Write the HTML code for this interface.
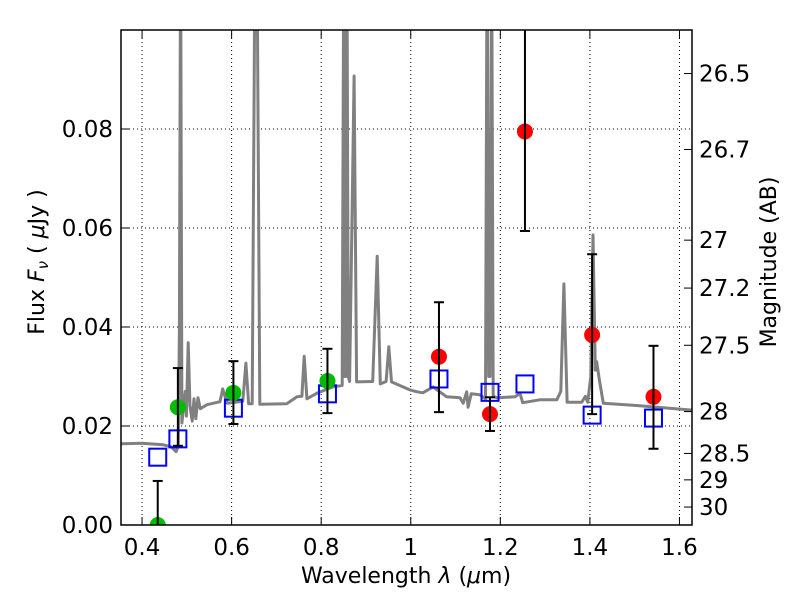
<!DOCTYPE html>
<html><head><meta charset="utf-8"><style>
body{margin:0;background:#fff}
svg text{font-family:"DejaVu Sans","Liberation Sans",sans-serif;fill:#000}
</style></head><body>
<svg id="chart" width="800" height="600" xmlns="http://www.w3.org/2000/svg">
<defs><clipPath id="plotclip"><rect x="121" y="30" width="571" height="495"/></clipPath></defs>
<g id="grid"></g>
<g id="spec" clip-path="url(#plotclip)"></g>
<g id="marks" clip-path="url(#plotclip)"></g>
<rect x="121" y="30" width="571" height="495" fill="none" stroke="#000" stroke-width="1.5"/>
<g id="axes"></g>
<text x="406" y="583" font-size="22" text-anchor="middle">Wavelength  <tspan font-style="italic">λ</tspan> (<tspan font-style="italic">μ</tspan>m)</text>
<text transform="translate(44,262) rotate(-90)" font-size="22" text-anchor="middle">Flux  <tspan font-style="italic">F</tspan><tspan font-style="italic" font-size="15" dy="4">ν</tspan><tspan dy="-4">  ( </tspan><tspan font-style="italic">μ</tspan>Jy )</text>
<text transform="translate(776,262) rotate(-90)" font-size="22" text-anchor="middle">Magnitude (AB)</text>
</svg>
<script>
const xTicks=[0.4,0.6,0.8,1.0,1.2,1.4,1.6];
const xTickLabels=["0.4","0.6","0.8","1","1.2","1.4","1.6"];
const yTicks=[0,0.02,0.04,0.06,0.08];
const yTickLabels=["0.00","0.02","0.04","0.06","0.08"];
const magTicks=[26.5,26.7,27,27.2,27.5,28,28.5,29,30];
const magTickLabels=["26.5","26.7","27","27.2","27.5","28","28.5","29","30"];
const specWave=[0.353,0.40,0.447,0.465,0.476,0.481,0.4835,0.486,0.489,0.494,0.4965,0.499,0.503,0.507,0.512,0.516,0.52,0.525,0.53,0.545,0.574,0.58,0.59,0.625,0.632,0.638,0.646,0.6525,0.6565,0.663,0.723,0.746,0.757,0.762,0.768,0.79,0.826,0.847,0.8505,0.8525,0.855,0.8575,0.8605,0.8635,0.8735,0.879,0.915,0.925,0.932,0.945,0.951,0.957,0.998,1.014,1.027,1.05,1.08,1.11,1.117,1.125,1.128,1.135,1.154,1.167,1.1705,1.174,1.177,1.1805,1.184,1.192,1.233,1.244,1.25,1.288,1.326,1.335,1.342,1.349,1.382,1.39,1.395,1.402,1.407,1.412,1.415,1.422,1.43,1.496,1.63];
const specFlux=[0.0164,0.0165,0.0162,0.0158,0.0148,0.016,0.04,0.12,0.0206,0.025,0.027,0.022,0.0368,0.024,0.021,0.0255,0.0215,0.0257,0.0235,0.0243,0.0249,0.0275,0.0246,0.025,0.0327,0.0245,0.0245,0.12,0.12,0.0244,0.0245,0.0259,0.026,0.0341,0.0255,0.0266,0.0279,0.0282,0.12,0.03,0.03,0.12,0.03,0.029,0.0907,0.0289,0.029,0.0543,0.0285,0.029,0.036,0.0289,0.0273,0.0269,0.0267,0.0279,0.0259,0.0257,0.0246,0.0269,0.0238,0.0265,0.0263,0.0255,0.12,0.03,0.03,0.12,0.026,0.0257,0.0259,0.0266,0.0247,0.0253,0.0253,0.027,0.0487,0.0248,0.0248,0.026,0.0248,0.03,0.0586,0.0313,0.033,0.0289,0.0246,0.0242,0.0232];
const bandWave=[0.435,0.48,0.604,0.814,1.063,1.177,1.255,1.405,1.542];
const modelFlux=[0.0137,0.0174,0.0236,0.0265,0.0295,0.0268,0.0285,0.0222,0.0216];
const obsFlux=[0.0,0.0238,0.0267,0.0291,0.034,0.0224,0.0795,0.0384,0.0259];
const obsLow=[-0.01,0.016,0.0204,0.0226,0.0228,0.019,0.0594,0.0224,0.0154];
const obsHigh=[0.0089,0.0317,0.0331,0.0356,0.045,0.0258,0.115,0.0547,0.0362];
const obsColor=["#00bb00","#00bb00","#00bb00","#00bb00","#ff0000","#ff0000","#ff0000","#ff0000","#ff0000"];

const NS="http://www.w3.org/2000/svg";
const X0=121,X1=692,Y0=525,Y1=30,WMIN=0.353,WMAX=1.628,FMAX=(525-30)/4950;
const xs=w=>X0+(w-WMIN)/(WMAX-WMIN)*(X1-X0);
const ys=f=>Y0-f/FMAX*(Y0-Y1);
const magToFlux=m=>Math.pow(10,(23.9-m)/2.5);
function mk(tag,attrs,parent){const e=document.createElementNS(NS,tag);for(const k in attrs)e.setAttribute(k,attrs[k]);parent.appendChild(e);return e;}
const grid=document.getElementById('grid'),axes=document.getElementById('axes'),spec=document.getElementById('spec'),marks=document.getElementById('marks');
xTicks.forEach((t,i)=>{const x=xs(t);
 const g=mk('line',{x1:x,x2:x,y1:Y1,y2:Y0,stroke:'#000','stroke-width':1,'stroke-dasharray':'1,3'},grid);
 
 
 mk('line',{x1:x,x2:x,y1:Y0,y2:Y0-8,stroke:'#000','stroke-width':1},axes);
 mk('line',{x1:x,x2:x,y1:Y1,y2:Y1+8,stroke:'#000','stroke-width':1},axes);
 const tx=mk('text',{x:x,y:555,'font-size':23,'text-anchor':'middle'},axes);tx.textContent=xTickLabels[i];
 
 
});
yTicks.forEach((t,i)=>{const y=ys(t);
 if(t>0){const g=mk('line',{x1:X0,x2:X1,y1:y,y2:y,stroke:'#000','stroke-width':1,'stroke-dasharray':'1,3'},grid);
 
 }
 mk('line',{x1:X0,x2:X0+8,y1:y,y2:y,stroke:'#000','stroke-width':1},axes);
 const tx=mk('text',{x:113,y:y+8,'font-size':23,'text-anchor':'end'},axes);tx.textContent=yTickLabels[i];
 
 
});
magTicks.forEach((m,i)=>{const y=ys(magToFlux(m));
 mk('line',{x1:X1-8,x2:X1,y1:y,y2:y,stroke:'#000','stroke-width':1},axes);
 const tx=mk('text',{x:699,y:y+8,'font-size':23,'text-anchor':'start'},axes);tx.textContent=magTickLabels[i];
 
 
});
let d='';specWave.forEach((w,i)=>{d+=(i?'L':'M')+xs(w).toFixed(1)+','+ys(specFlux[i]).toFixed(1);});
const sp=mk('path',{d:d,fill:'none',stroke:'#808080','stroke-width':3,'stroke-linejoin':'round'},spec);


bandWave.forEach((w,i)=>{const x=xs(w);
 const sq=mk('rect',{x:x-8.5,y:ys(modelFlux[i])-8.5,width:17,height:17,fill:'none',stroke:'#0000ff','stroke-width':2},marks);
 
 
 const c=mk('circle',{cx:x,cy:ys(obsFlux[i]),r:8,fill:obsColor[i]},marks);
 
 
 const yl=ys(obsLow[i]),yh=ys(obsHigh[i]);
 const eb=mk('line',{x1:x,x2:x,y1:yl,y2:yh,stroke:'#000','stroke-width':2},marks);
 
 
 mk('line',{x1:x-5,x2:x+5,y1:yl,y2:yl,stroke:'#000','stroke-width':2},marks);
 mk('line',{x1:x-5,x2:x+5,y1:yh,y2:yh,stroke:'#000','stroke-width':2},marks);
});
</script>
</body></html>
